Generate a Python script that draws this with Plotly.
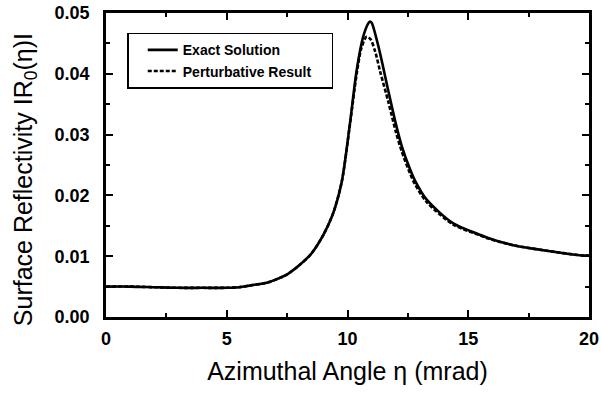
import plotly.graph_objects as go

# Exact solution
exact_x = [0, 1, 2, 3, 4, 5, 5.5, 6, 6.5, 6.8, 7, 7.5, 8, 8.5, 9, 9.4, 9.76, 10.1,
           10.38, 10.65, 10.86, 10.93, 11.0, 11.28, 11.69, 12.0, 12.24, 12.59, 12.8,
           13.28, 14.38, 15.5, 15.83, 16.87, 18.25, 19.77, 20]
exact_y = [0.0050, 0.0050, 0.0049, 0.0048, 0.0048, 0.0048, 0.0049, 0.0052, 0.0055, 0.0058,
           0.0061, 0.0070, 0.0085, 0.0104, 0.0135, 0.0170, 0.0222, 0.0318,
           0.0406, 0.0461, 0.0483, 0.0486, 0.0484, 0.0445, 0.0372, 0.0318, 0.0282, 0.0243, 0.0224,
           0.0193, 0.0154, 0.0135, 0.0130, 0.0118, 0.0109, 0.0101, 0.0101]

# Perturbative result
pert_x = [0, 1, 2, 3, 4, 5, 5.5, 6, 6.5, 6.8, 7, 7.5, 8, 8.5, 9, 9.4, 9.76, 10.1,
          10.38, 10.58, 10.79, 10.95, 11.15, 11.35, 11.69, 12.0, 12.24, 12.59, 12.8,
          13.28, 14.38, 15.5, 15.83, 16.87, 18.25, 19.77, 20]
pert_y = [0.0050, 0.0050, 0.0049, 0.0048, 0.0048, 0.0048, 0.0049, 0.0052, 0.0055, 0.0058,
          0.0061, 0.0070, 0.0085, 0.0104, 0.0135, 0.0170, 0.0222, 0.0316,
          0.0400, 0.0443, 0.0461, 0.0457, 0.0436, 0.0404, 0.0354, 0.0305, 0.0273, 0.0236, 0.0218,
          0.0189, 0.0152, 0.0134, 0.0129, 0.0118, 0.0109, 0.0101, 0.0101]

x_ticks = [0, 5, 10, 15, 20]
y_ticks = [0.00, 0.01, 0.02, 0.03, 0.04, 0.05]

X_TITLE = "Azimuthal Angle η (mrad)"
Y_TITLE = "Surface Reflectivity IR<sub>0</sub>(η)I"

FONT = "Liberation Sans, Arial, Helvetica, sans-serif"
NB = "\u00a0"

fig = go.Figure()
fig.add_trace(go.Scatter(x=exact_x, y=exact_y, mode="lines", name="Exact Solution",
                         line=dict(color="black", width=2.6, shape="spline", smoothing=0.8)))
fig.add_trace(go.Scatter(x=pert_x, y=pert_y, mode="lines", name="Perturbative Result" + NB * 4,
                         line=dict(color="black", width=2.6, dash="4px,2px", shape="spline", smoothing=0.8)))

axis_common = dict(
    showline=True, linecolor="black", linewidth=2.5, mirror="allticks",
    ticks="inside", ticklen=7, tickwidth=2, tickcolor="black",
    showgrid=False, zeroline=False, automargin=False,
    tickfont=dict(family=FONT, size=18, color="black", weight="bold"),
)

fig.update_xaxes(range=[0, 20], tickvals=x_ticks, ticklabelstandoff=4,
                 minor=dict(ticks="inside", ticklen=4, tickwidth=2, dtick=2.5, tick0=0, tickcolor="black"),
                 title=dict(text=X_TITLE, font=dict(family=FONT, size=25, color="black")),
                 **axis_common)
fig.update_yaxes(range=[0, 0.05], tickvals=y_ticks, tickformat=".2f", ticklabelstandoff=10,
                 minor=dict(ticks="inside", ticklen=4, tickwidth=2, dtick=0.005, tick0=0, tickcolor="black"),
                 **axis_common)

# y-axis title placed as a rotated annotation (slightly below axis centre, as in the reference)
fig.add_annotation(text=Y_TITLE, textangle=-90, xref="paper", yref="paper",
                   x=0, y=0.45, xanchor="center", yanchor="middle", xshift=-81,
                   showarrow=False, font=dict(family=FONT, size=25, color="black"))

fig.update_layout(
    width=601, height=395,
    margin=dict(l=106, r=12, t=13, b=78),
    paper_bgcolor="white", plot_bgcolor="white",
    showlegend=True,
    legend=dict(x=0.044, y=0.935, xanchor="left", yanchor="top",
                bgcolor="white", bordercolor="black", borderwidth=1.5,
                font=dict(family=FONT, size=14, color="black", weight="bold"),
                tracegroupgap=0, itemwidth=30, indentation=14),
)

fig.write_html("out.html", config={"displayModeBar": False},
               post_script="document.body.style.margin='0';")
